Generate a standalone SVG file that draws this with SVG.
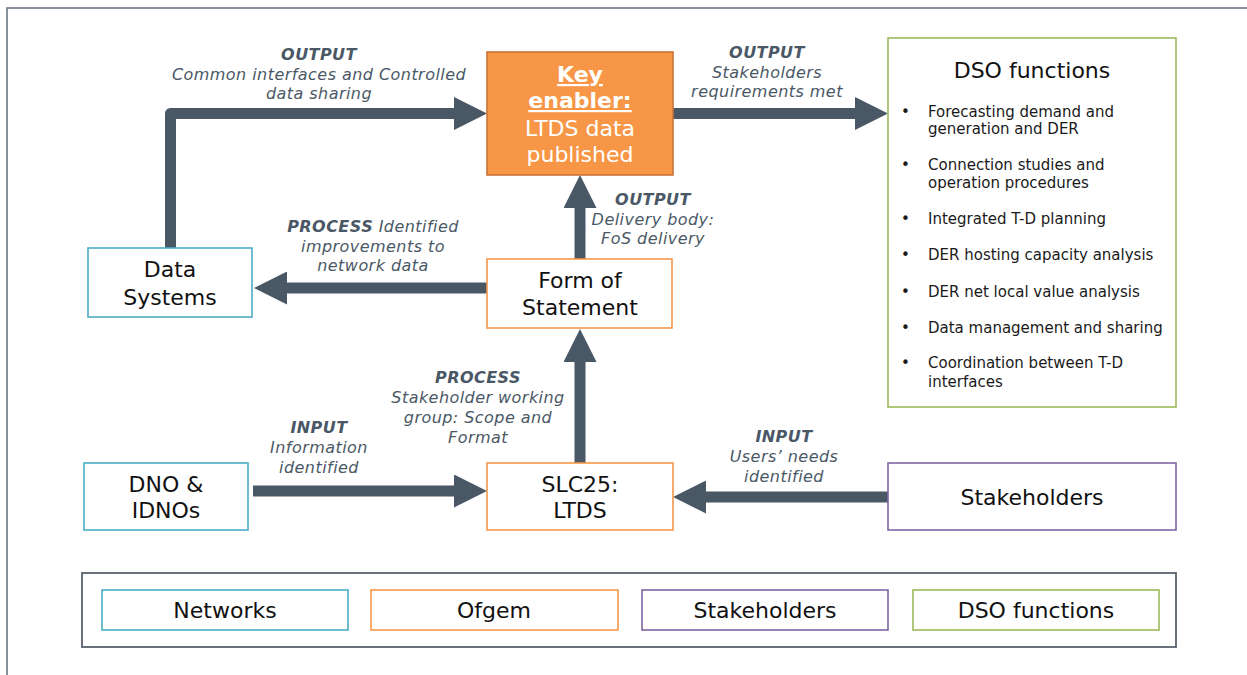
<svg xmlns="http://www.w3.org/2000/svg" width="1247" height="675" viewBox="0 0 1247 675">
  <style>
    text { font-family: "DejaVu Sans", Verdana, sans-serif; }
    .box { fill: #ffffff; stroke-width: 1.6; }
    .net { stroke: #4bacc6; }
    .ofg { stroke: #f79646; }
    .stk { stroke: #8064a2; }
    .dso { stroke: #9bbb59; }
    .node { font-size: 22px; fill: #111111; text-anchor: middle; }
    .lbl { font-size: 16px; fill: #4a5866; font-style: italic; text-anchor: middle; letter-spacing: 0.45px; }
    .lbl .hd { font-weight: bold; }
    .item { font-size: 15px; fill: #1a1a1a; }
    .flow { fill: none; stroke: #4a5866; stroke-width: 11; stroke-linejoin: round; marker-end: url(#head); }
  </style>
  <defs>
    <marker id="head" markerUnits="userSpaceOnUse" viewBox="0 0 33 33" refX="0" refY="16.5" markerWidth="33" markerHeight="33" orient="auto">
      <path d="M0,0 L33,16.5 L0,33 Z" fill="#4a5866"/>
    </marker>
  </defs>

  <rect width="1247" height="675" fill="#ffffff"/>
  <!-- page frame -->
  <rect x="7" y="8" width="1270" height="700" fill="none" stroke="#6b7785" stroke-width="1.6"/>

  <!-- connectors -->
  <g id="connectors">
    <path class="flow" d="M170.5,248 V113.5 H454"/>
    <path class="flow" d="M673,113.5 H855"/>
    <path class="flow" d="M580,259 V208"/>
    <path class="flow" d="M487,288 H287"/>
    <path class="flow" d="M580,463 V362"/>
    <path class="flow" d="M253,491 H454"/>
    <path class="flow" d="M888,497 H706"/>
  </g>

  <!-- connector labels -->
  <g id="labels">
    <text class="lbl" x="319" y="60"><tspan class="hd">OUTPUT</tspan><tspan x="319" y="80">Common interfaces and Controlled</tspan><tspan x="319" y="99">data sharing</tspan></text>
    <text class="lbl" x="767" y="58"><tspan class="hd">OUTPUT</tspan><tspan x="767" y="78">Stakeholders</tspan><tspan x="767" y="97">requirements met</tspan></text>
    <text class="lbl" x="653" y="205"><tspan class="hd">OUTPUT</tspan><tspan x="653" y="225">Delivery body:</tspan><tspan x="653" y="244">FoS delivery</tspan></text>
    <text class="lbl" x="373" y="232"><tspan class="hd">PROCESS</tspan> Identified<tspan x="373" y="252">improvements to</tspan><tspan x="373" y="271">network data</tspan></text>
    <text class="lbl" x="478" y="383"><tspan class="hd">PROCESS</tspan><tspan x="478" y="403">Stakeholder working</tspan><tspan x="478" y="423">group: Scope and</tspan><tspan x="478" y="443">Format</tspan></text>
    <text class="lbl" x="319" y="433"><tspan class="hd">INPUT</tspan><tspan x="319" y="453">Information</tspan><tspan x="319" y="473">identified</tspan></text>
    <text class="lbl" x="784" y="442"><tspan class="hd">INPUT</tspan><tspan x="784" y="462">Users’ needs</tspan><tspan x="784" y="482">identified</tspan></text>
  </g>

  <!-- key enabler -->
  <g id="key-enabler">
    <rect x="487" y="52" width="186" height="123" fill="#f79646" stroke="#c8763a" stroke-width="1.6"/>
    <text class="node" x="580" y="82" style="fill:#ffffff;font-weight:bold;text-decoration:underline">Key</text>
    <text class="node" x="580" y="108" style="fill:#ffffff;font-weight:bold;text-decoration:underline">enabler:</text>
    <text class="node" x="580" y="136" style="fill:#ffffff">LTDS data</text>
    <text class="node" x="580" y="162" style="fill:#ffffff">published</text>
  </g>

  <!-- DSO functions -->
  <g id="dso-functions">
    <rect class="box dso" x="888" y="38" width="288" height="369"/>
    <text class="node" x="1032" y="78">DSO functions</text>
    <g class="item">
      <text x="901" y="117">•</text><text x="928" y="117">Forecasting demand and</text><text x="928" y="134">generation and DER</text>
      <text x="901" y="170">•</text><text x="928" y="170">Connection studies and</text><text x="928" y="188">operation procedures</text>
      <text x="901" y="224">•</text><text x="928" y="224">Integrated T-D planning</text>
      <text x="901" y="260">•</text><text x="928" y="260">DER hosting capacity analysis</text>
      <text x="901" y="297">•</text><text x="928" y="297">DER net local value analysis</text>
      <text x="901" y="333">•</text><text x="928" y="333">Data management and sharing</text>
      <text x="901" y="368">•</text><text x="928" y="368">Coordination between T-D</text><text x="928" y="387">interfaces</text>
    </g>
  </g>

  <g id="data-systems">
    <rect class="box net" x="88" y="248" width="164" height="69"/>
    <text class="node" x="170" y="277">Data</text>
    <text class="node" x="170" y="305">Systems</text>
  </g>

  <g id="form-of-statement">
    <rect class="box ofg" x="487" y="259" width="185" height="69"/>
    <text class="node" x="580" y="288">Form of</text>
    <text class="node" x="580" y="315">Statement</text>
  </g>

  <g id="dno-idnos">
    <rect class="box net" x="84" y="463" width="164" height="67"/>
    <text class="node" x="166" y="492">DNO &amp;</text>
    <text class="node" x="166" y="518">IDNOs</text>
  </g>

  <g id="slc25">
    <rect class="box ofg" x="487" y="463" width="186" height="67"/>
    <text class="node" x="580" y="492">SLC25:</text>
    <text class="node" x="580" y="518">LTDS</text>
  </g>

  <g id="stakeholders">
    <rect class="box stk" x="888" y="463" width="288" height="67"/>
    <text class="node" x="1032" y="505">Stakeholders</text>
  </g>

  <!-- legend -->
  <g id="legend">
    <rect x="82" y="573" width="1094" height="74" fill="#ffffff" stroke="#59636e" stroke-width="1.8"/>
    <rect class="box net" x="102" y="590" width="246" height="40"/>
    <text class="node" x="225" y="618">Networks</text>
    <rect class="box ofg" x="371" y="590" width="247" height="40"/>
    <text class="node" x="494" y="618">Ofgem</text>
    <rect class="box stk" x="642" y="590" width="246" height="40"/>
    <text class="node" x="765" y="618">Stakeholders</text>
    <rect class="box dso" x="913" y="590" width="246" height="40"/>
    <text class="node" x="1036" y="618">DSO functions</text>
  </g>
</svg>
